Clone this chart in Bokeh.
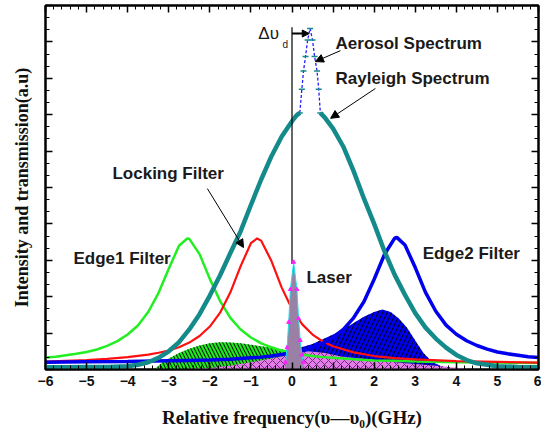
import math
from bokeh.plotting import figure
from bokeh.models import Range1d, LinearAxis, SingleIntervalTicker, Label, Arrow, NormalHead
from bokeh.embed import file_html
from bokeh.resources import INLINE

nan = float("nan")

# ---------------- data ----------------
edge1_x = [-6, -5.75, -5.5, -5.25, -5, -4.75, -4.5, -4.25, -4, -3.75, -3.5, -3.25, -3, -2.75, -2.55,
           -2.5, -2.25, -2, -1.75, -1.5, -1.25, -1, -0.75, -0.5, -0.25, 0, 0.25, 0.5, 0.75, 1, 1.5,
           2, 2.5, 3, 4, 5, 6]
edge1_y = [0.033, 0.035, 0.039, 0.043, 0.048, 0.055, 0.065, 0.078, 0.096, 0.121, 0.158, 0.210, 0.277,
           0.340, 0.360, 0.359, 0.317, 0.249, 0.188, 0.142, 0.110, 0.088, 0.072, 0.061, 0.052, 0.046,
           0.041, 0.037, 0.034, 0.032, 0.028, 0.025, 0.024, 0.022, 0.020, 0.019, 0.018]

lock_x = [-6, -5.5, -5, -4.5, -4, -3.5, -3.25, -3, -2.75, -2.5, -2.25, -2, -1.75, -1.5, -1.25, -1,
          -0.85, -0.75, -0.5, -0.25, 0, 0.25, 0.5, 0.75, 1, 1.5, 2, 2.5, 3, 4, 5, 6]
lock_y = [0.022, 0.024, 0.026, 0.029, 0.034, 0.041, 0.046, 0.052, 0.061, 0.074, 0.092, 0.118, 0.156,
          0.212, 0.284, 0.347, 0.360, 0.354, 0.298, 0.225, 0.166, 0.124, 0.096, 0.077, 0.064, 0.047,
          0.037, 0.031, 0.028, 0.023, 0.021, 0.019]

edge2_x = [-6, -5, -4, -3, -2.5, -2, -1.5, -1, -0.75, -0.5, -0.25, 0, 0.25, 0.5, 0.75, 1, 1.25, 1.5,
           1.75, 2, 2.25, 2.5, 2.55, 2.75, 3, 3.25, 3.5, 3.75, 4, 4.25, 4.5, 4.75, 5, 5.25, 5.5, 5.75, 6]
edge2_y = [0.020, 0.021, 0.022, 0.024, 0.025, 0.026, 0.028, 0.032, 0.034, 0.037, 0.041, 0.046, 0.052,
           0.061, 0.072, 0.088, 0.110, 0.142, 0.186, 0.248, 0.316, 0.361, 0.363, 0.342, 0.280, 0.212,
           0.160, 0.122, 0.097, 0.079, 0.066, 0.056, 0.048, 0.043, 0.039, 0.035, 0.033]

rayleigh_x = [-6, -5.5, -5, -4.5, -4, -3.75, -3.5, -3.25, -3, -2.75, -2.5, -2.25, -2, -1.75, -1.5,
              -1.25, -1, -0.75, -0.5, -0.25, 0, 0.1, 0.19, nan, 0.69, 0.8, 1.0, 1.25, 1.5, 1.75, 2,
              2.25, 2.5, 2.75, 3, 3.25, 3.5, 3.75, 4, 4.25, 4.5, 5, 5.5, 6]
rayleigh_y = [0.006, 0.006, 0.007, 0.007, 0.009, 0.013, 0.020, 0.032, 0.050, 0.075, 0.110, 0.152,
              0.203, 0.259, 0.320, 0.380, 0.452, 0.522, 0.586, 0.640, 0.682, 0.697, 0.705, nan,
              0.705, 0.692, 0.662, 0.612, 0.545, 0.470, 0.400, 0.325, 0.260, 0.205, 0.155, 0.115,
              0.085, 0.060, 0.040, 0.026, 0.017, 0.009, 0.007, 0.006]

aerosol_x = [0.19, 0.24, 0.28, 0.33, 0.38, 0.44, 0.50, 0.55, 0.61, 0.65, 0.69]
aerosol_y = [0.705, 0.77, 0.82, 0.86, 0.905, 0.937, 0.905, 0.86, 0.82, 0.77, 0.705]

laser_x = [-0.16, -0.12, -0.08, -0.04, 0.04, 0.12, 0.16, 0.2, 0.24, 0.28]
laser_y = [0.02, 0.06, 0.13, 0.22, 0.295, 0.22, 0.14, 0.08, 0.04, 0.02]

edge1_tr_x = [-3.35, -3.2, -3.0, -2.75, -2.5, -2.25, -2.0, -1.75, -1.5, -1.25, -1.0, -0.75, -0.5, -0.25, 0.0]
edge1_tr_y = [0.0, 0.016, 0.03, 0.045, 0.057, 0.066, 0.072, 0.075, 0.074, 0.072, 0.068, 0.064, 0.06, 0.055, 0.05]

edge2_tr_x = [0.08, 0.1, 0.25, 0.5, 0.75, 1.0, 1.25, 1.5, 1.75, 2.0, 2.2, 2.4, 2.6, 2.8, 3.0, 3.2, 3.4, 3.6, 3.8, 4.0]
edge2_tr_y = [0.0, 0.055, 0.062, 0.07, 0.083, 0.096, 0.11, 0.128, 0.145, 0.158, 0.165, 0.158, 0.14,
              0.115, 0.08, 0.045, 0.022, 0.01, 0.004, 0.0]

lock_tr_x = [-3.0, -2.0, -1.5, -1.0, -0.5, 0.0, 0.4, 0.8, 1.2, 1.6, 2.0, 2.5, 3.0, 3.5, 4.0, 4.5]
lock_tr_y = [0.0, 0.004, 0.01, 0.02, 0.03, 0.042, 0.05, 0.045, 0.036, 0.031, 0.026, 0.02, 0.015, 0.01, 0.005, 0.0]

x_ticks_interval = 1
labels_text = ["Aerosol Spectrum", "Rayleigh Spectrum", "Locking Filter", "Edge1 Filter", "Edge2 Filter", "Laser"]
labels_x = [1.06, 1.06, -4.37, -5.32, 3.18, 0.35]
labels_y = [0.896, 0.80, 0.538, 0.305, 0.319, 0.253]

# annotation arrows: (x_start, y_start, x_end, y_end)
arrows = [(1.18, 0.876, 0.57, 0.846), (2.03, 0.772, 0.94, 0.69), (-2.06, 0.497, -1.18, 0.335)]
shift_arrow = (0.0, 0.923, 0.42, 0.923)
vline_x = [0.0]
vline_y0 = [0.29]
vline_y1 = [0.94]

# ---------------- figure ----------------
p = figure(width=541, height=430, x_range=Range1d(-6, 6), y_range=Range1d(0, 1),
           output_backend="svg", toolbar_location=None,
           min_border_left=45, min_border_right=3, min_border_top=5, min_border_bottom=61)
p.grid.visible = False
p.outline_line_color = "black"
p.outline_line_width = 2
p.background_fill_color = "white"
p.border_fill_color = "white"


def style_axis(ax, show_labels):
    ax.axis_line_color = "black"
    ax.axis_line_width = 2
    ax.major_tick_in = 7
    ax.major_tick_out = 0
    ax.minor_tick_in = 4
    ax.minor_tick_out = 0
    ax.major_tick_line_color = "black"
    ax.minor_tick_line_color = "black"
    ax.major_tick_line_width = 1.5
    ax.minor_tick_line_width = 1
    if show_labels:
        ax.major_label_text_font = "Liberation Sans"
        ax.major_label_text_font_style = "bold"
        ax.major_label_text_font_size = "14px"
        ax.major_label_text_color = "#111111"
        ax.major_label_standoff = 6
    else:
        ax.major_label_text_font_size = "0px"
        ax.major_label_text_alpha = 0
        ax.major_label_text_color = None
        ax.major_label_standoff = 0


xa = p.xaxis[0]
xa.ticker = SingleIntervalTicker(interval=x_ticks_interval, num_minor_ticks=5)
style_axis(xa, True)
xa.axis_label = "Relative frequency(\u03c5\u2014\u03c5\u2080)(GHz)"
xa.axis_label_text_font = "Liberation Serif"
xa.axis_label_text_font_style = "bold"
xa.axis_label_text_font_size = "19px"
xa.axis_label_text_color = "#111111"
xa.axis_label_standoff = 18

ya = p.yaxis[0]
ya.ticker = SingleIntervalTicker(interval=0.1, num_minor_ticks=3)
style_axis(ya, False)
ya.axis_label = "Intensity and transmission(a.u)"
ya.axis_label_text_font = "Liberation Serif"
ya.axis_label_text_font_style = "bold"
ya.axis_label_text_font_size = "18px"
ya.axis_label_text_color = "#111111"
ya.axis_label_standoff = 14

top = LinearAxis(ticker=SingleIntervalTicker(interval=x_ticks_interval, num_minor_ticks=5))
style_axis(top, False)
p.add_layout(top, "above")
right = LinearAxis(ticker=SingleIntervalTicker(interval=0.1, num_minor_ticks=3))
style_axis(right, False)
p.add_layout(right, "right")

# ---------------- filled transmissions ----------------
p.varea(x=edge1_tr_x, y1=0, y2=edge1_tr_y, fill_color="#22e622", hatch_pattern="left_diagonal_line",
        hatch_color="black", hatch_scale=7, hatch_weight=1)
p.varea(x=edge2_tr_x, y1=0, y2=edge2_tr_y, fill_color="#0000f0", hatch_pattern="right_diagonal_line",
        hatch_color="black", hatch_scale=9, hatch_weight=1)
p.varea(x=lock_tr_x, y1=0, y2=lock_tr_y, fill_color="#e47ee4", hatch_pattern="diagonal_cross",
        hatch_color="#6a2a8a", hatch_scale=8, hatch_weight=1)

# ---------------- filter curves ----------------
p.line(edge1_x, edge1_y, line_color="#22ee22", line_width=2.5)
p.line(lock_x, lock_y, line_color="#ff1010", line_width=2.2)
p.line(edge2_x, edge2_y, line_color="#0000ee", line_width=3.5)
p.line(rayleigh_x, rayleigh_y, line_color="#158a8a", line_width=4.5)

# aerosol peak
p.line(aerosol_x, aerosol_y, line_color="#2020ff", line_width=1.3, line_dash="3 2")
p.scatter(aerosol_x, aerosol_y, marker="dash", size=6, line_color="#158a8a", line_width=1.5)

# vertical marker line at the laser frequency
p.segment(x0=vline_x, y0=vline_y0, x1=vline_x, y1=vline_y1, line_color="black", line_width=1.2)

# laser
p.varea(x=laser_x, y1=0, y2=laser_y, fill_color="#9a80a4")
p.line(laser_x, laser_y, line_color="#20e0e8", line_width=1)
p.scatter(laser_x, laser_y, marker="triangle", size=4, fill_color="#ff20ff", line_color="#ff20ff")

# ---------------- texts and arrows ----------------
for t, lx, ly in zip(labels_text, labels_x, labels_y):
    p.add_layout(Label(x=lx, y=ly, text=t, text_font="Liberation Sans", text_font_style="bold",
                       text_font_size="17px", text_color="#1a1a1a", text_baseline="middle"))

p.add_layout(Label(x=-0.82, y=0.923, text="\u0394\u03c5", text_font="Liberation Sans",
                   text_font_size="17px", text_color="#1a1a1a", text_baseline="middle"))
p.add_layout(Label(x=-0.23, y=0.893, text="d", text_font="Liberation Sans",
                   text_font_size="10px", text_color="#1a1a1a", text_baseline="middle"))

for xs, ys, xe, ye in arrows:
    p.add_layout(Arrow(end=NormalHead(size=8, fill_color="black", line_color="black"),
                       x_start=xs, y_start=ys, x_end=xe, y_end=ye, line_color="black", line_width=1))
xs, ys, xe, ye = shift_arrow
p.add_layout(Arrow(end=NormalHead(size=7, fill_color="black", line_color="black"),
                   x_start=xs, y_start=ys, x_end=xe, y_end=ye, line_color="black", line_width=2))

open("out.html", "w").write(file_html(p, INLINE))
